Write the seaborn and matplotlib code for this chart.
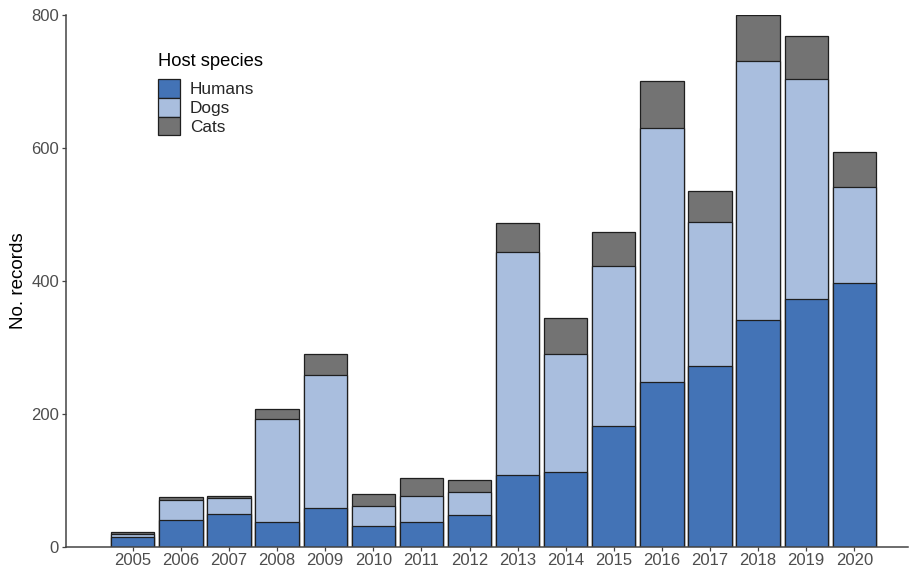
import numpy as np
import pandas as pd
import matplotlib
matplotlib.use("Agg")
import matplotlib.pyplot as plt
from matplotlib.patches import Patch
import seaborn as sns

years = ["2005", "2006", "2007", "2008", "2009", "2010", "2011", "2012",
         "2013", "2014", "2015", "2016", "2017", "2018", "2019", "2020"]
humans = [15, 41, 49, 38, 58, 32, 37, 48, 109, 113, 182, 248, 272, 342, 373, 397]
dogs = [5, 30, 24, 154, 201, 29, 40, 34, 335, 177, 241, 382, 217, 389, 331, 144]
cats = [2, 4, 4, 15, 31, 19, 26, 18, 43, 55, 50, 71, 47, 69, 65, 53]

species = ["Humans", "Dogs", "Cats"]
colors = {"Humans": "#4373B6", "Dogs": "#A9BEDE", "Cats": "#737373"}

df = pd.DataFrame({"year": years, "Humans": humans, "Dogs": dogs, "Cats": cats})
df["h_d"] = df["Humans"] + df["Dogs"]
df["total"] = df["h_d"] + df["Cats"]

sns.set_theme(style="white")
plt.rcParams["font.family"] = ["Liberation Sans", "DejaVu Sans"]

fig = plt.figure(figsize=(9.1, 5.68), dpi=100)
ax = fig.add_axes([0.0725, 0.037, 0.9255, 0.9366])

edge = dict(edgecolor="#1f1f1f", linewidth=0.9, width=0.9)
# stacked bars: draw cumulative heights from the top segment down
sns.barplot(data=df, x="year", y="total", color=colors["Cats"], saturation=1, ax=ax, **edge)
sns.barplot(data=df, x="year", y="h_d", color=colors["Dogs"], saturation=1, ax=ax, **edge)
sns.barplot(data=df, x="year", y="Humans", color=colors["Humans"], saturation=1, ax=ax, **edge)

ax.set_ylim(0, 800)
ax.set_xlim(-1.39, 16.12)
ax.set_yticks([0, 200, 400, 600, 800])
ax.set_xlabel("")
ax.set_ylabel("No. records", fontsize=13.5, color="black", labelpad=3)

for side in ["top", "right"]:
    ax.spines[side].set_visible(False)
for side in ["left", "bottom"]:
    ax.spines[side].set_color("#444444")
    ax.spines[side].set_linewidth(1.1)

ax.tick_params(axis="both", which="both", length=3, width=0.9, color="#444444",
               labelsize=12, labelcolor="#4d4d4d", pad=2, left=True, bottom=True)
ax.tick_params(axis="x", pad=1.5)

# legend title drawn separately so it sits a little above the keys
ax.text(0.1093, 0.9135, "Host species", transform=ax.transAxes, fontsize=13.2,
        color="black", ha="left", va="center")
handles = [Patch(facecolor=colors[s], edgecolor="#1f1f1f", linewidth=0.9, label=s) for s in species]
leg = ax.legend(handles=handles, loc="upper left",
                bbox_to_anchor=(0.1093, 0.8797), frameon=False, fontsize=12.4,
                handlelength=1.3, handleheight=1.3,
                labelspacing=0.0, handletextpad=0.55, borderaxespad=0, borderpad=0)

fig.savefig("out.png", dpi=100)
